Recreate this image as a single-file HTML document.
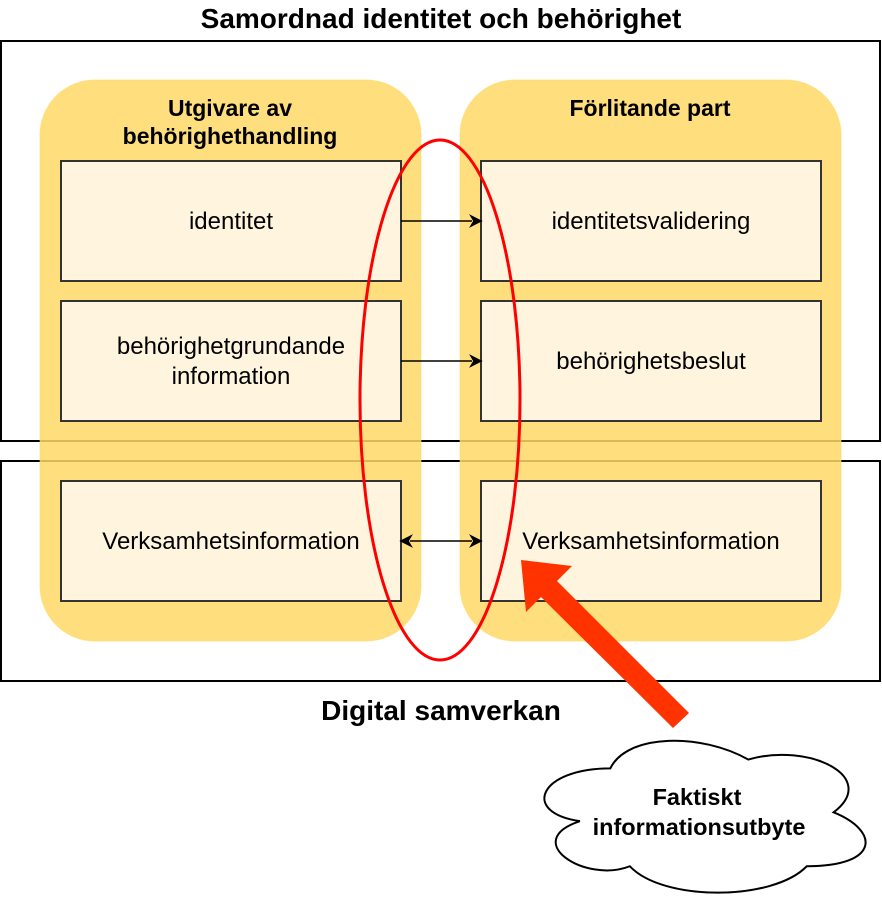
<!DOCTYPE html>
<html><head><meta charset="utf-8"><style>body{margin:0;background:#fff}svg{display:block}text{font-family:"Liberation Sans",Arial,sans-serif}</style></head><body>
<svg width="882" height="902" viewBox="0 0 882 902">
<text x="441" y="28" font-size="28" font-weight="bold" text-anchor="middle">Samordnad identitet och behörighet</text>
<rect x="1" y="41" width="879" height="400" fill="none" stroke="#000" stroke-width="2"/>
<rect x="1" y="461" width="879" height="220" fill="none" stroke="#000" stroke-width="2"/>
<text x="441" y="720" font-size="28" font-weight="bold" text-anchor="middle">Digital samverkan</text>
<rect x="40" y="80" width="381" height="561" rx="55" fill="#ffd966" fill-opacity="0.85" stroke="#ffd966" stroke-opacity="0.6"/>
<rect x="460" y="80" width="381" height="561" rx="55" fill="#ffd966" fill-opacity="0.85" stroke="#ffd966" stroke-opacity="0.6"/>
<text x="230" y="116" font-size="23" font-weight="bold" text-anchor="middle">Utgivare av</text>
<text x="230" y="144" font-size="23" font-weight="bold" text-anchor="middle">behörighethandling</text>
<text x="650" y="116" font-size="23" font-weight="bold" text-anchor="middle">Förlitande part</text>
<g fill="#fff5de" stroke="#333" stroke-width="2">
<rect x="61" y="161" width="340" height="120"/><rect x="61" y="301" width="340" height="120"/><rect x="61" y="481" width="340" height="120"/>
<rect x="481" y="161" width="340" height="120"/><rect x="481" y="301" width="340" height="120"/><rect x="481" y="481" width="340" height="120"/>
</g>
<g font-size="24" text-anchor="middle">
<text x="231" y="229">identitet</text>
<text x="231" y="354">behörighetgrundande</text><text x="231" y="384">information</text>
<text x="231" y="549">Verksamhetsinformation</text>
<text x="651" y="229">identitetsvalidering</text>
<text x="651" y="369">behörighetsbeslut</text>
<text x="651" y="549">Verksamhetsinformation</text>
</g>
<g stroke="#000" stroke-width="1.5" fill="#000">
<line x1="401" y1="221" x2="472" y2="221"/><path d="M481 221l-10-5 3 5-3 5z"/>
<line x1="401" y1="361" x2="472" y2="361"/><path d="M481 361l-10-5 3 5-3 5z"/>
<line x1="410" y1="541" x2="472" y2="541"/><path d="M481 541l-10-5 3 5-3 5z"/><path d="M401 541l10-5-3 5 3 5z"/>
</g>
<ellipse cx="440" cy="400" rx="80" ry="260" fill="none" stroke="#ff0000" stroke-width="3"/>
<polygon points="521,560 572,566 557,581 689,713 673,728 541,597 526,612" fill="#ff3300"/>
<g transform="translate(705.5,814) scale(1.22,1.1) translate(-695,-816.5)">
<path d="M617,775 C559,775 543,815 592,823 C543,841 596,880 633,864 C660,896 750,896 778,864 C838,864 838,832 800,815 C838,783 780,751 730,767 C692,743 631,743 617,775 Z" fill="#fff" stroke="#000" stroke-width="2" vector-effect="non-scaling-stroke"/>
</g>
<text x="697" y="805" font-size="23.5" font-weight="bold" text-anchor="middle">Faktiskt</text>
<text x="699" y="835" font-size="23.5" font-weight="bold" text-anchor="middle">informationsutbyte</text>
</svg>
</body></html>
